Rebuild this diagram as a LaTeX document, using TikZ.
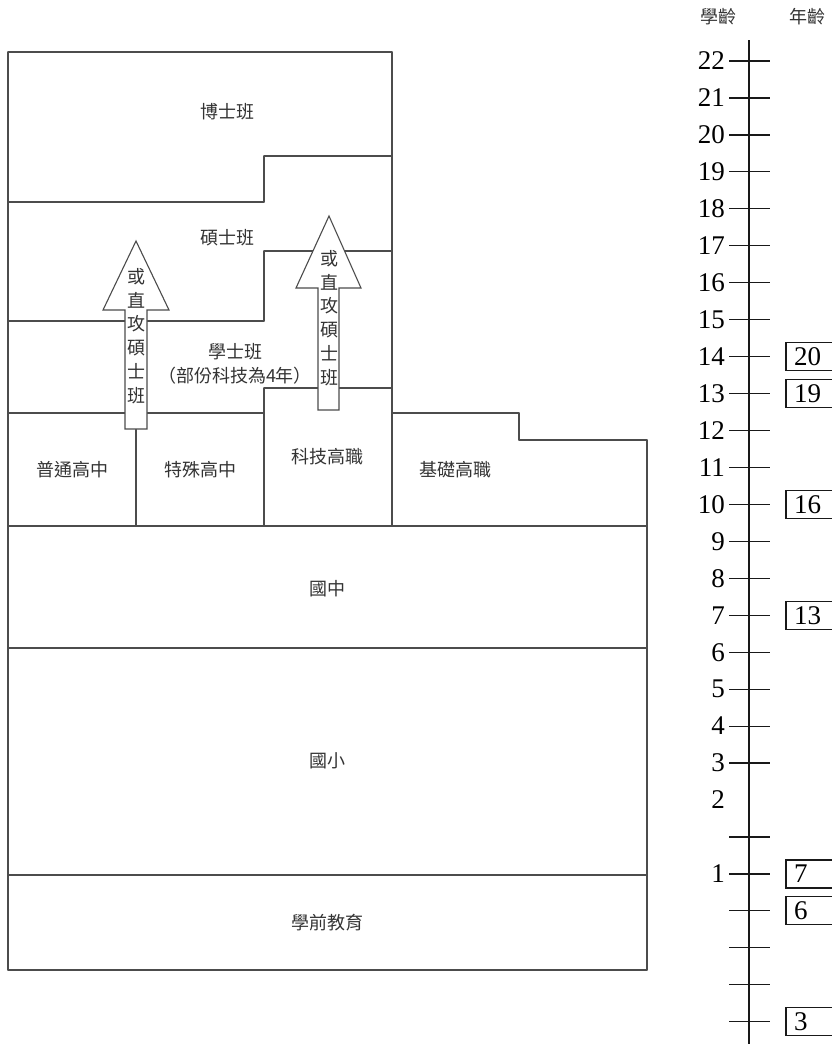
\documentclass[tikz,border=0pt]{standalone}
\usepackage{amsmath}
\usepackage{pgf,tikz}
\usepackage{tkz-euclide}
\usepackage{xcolor}
\usepackage{fontspec}
\newfontfamily\cjkfont{Noto Sans CJK TC}
\newfontfamily\numfont{Liberation Serif}
\usetikzlibrary{calc}

\tikzset{
  wall/.style={color=black!70, line width=1.1pt},
  zh/.style={font=\cjkfont\fontsize{18pt}{23.7pt}\selectfont, text=black!80, inner sep=0pt},
  num/.style={font=\numfont\fontsize{27pt}{27pt}\selectfont, inner sep=0pt},
  axis/.style={black!90, line width=1.2pt}
}

\begin{document}
\begin{tikzpicture}[x=1pt, y=-1pt]
    \useasboundingbox (0,0) rectangle (832,1044);
    \clip (0,0) rectangle (832,1044);
    \tkzDefPoint(8,52){t_1}
    \tkzDefPoint(392,52){t_2}
    \tkzDefPoint(8,202){d_1}
    \tkzDefPoint(264,202){d_2}
    \tkzDefPoint(264,156){d_3}
    \tkzDefPoint(392,156){d_4}
    \tkzDefPoint(8,321){m_1}
    \tkzDefPoint(264,321){m_2}
    \tkzDefPoint(264,251){m_3}
    \tkzDefPoint(392,251){m_4}
    \tkzDefPoint(8,413){b_1}
    \tkzDefPoint(264,413){b_2}
    \tkzDefPoint(264,388){b_3}
    \tkzDefPoint(392,388){b_4}
    \tkzDefPoint(136,413){h_1}
    \tkzDefPoint(136,526){h_2}
    \tkzDefPoint(264,526){h_3}
    \tkzDefPoint(392,526){h_4}
    \tkzDefPoint(392,413){v_1}
    \tkzDefPoint(519,413){v_2}
    \tkzDefPoint(519,440){v_3}
    \tkzDefPoint(647,440){v_4}
    \tkzDefPoint(8,526){r_1}
    \tkzDefPoint(647,526){r_2}
    \tkzDefPoint(8,648){r_3}
    \tkzDefPoint(647,648){r_4}
    \tkzDefPoint(8,875){r_5}
    \tkzDefPoint(647,875){r_6}
    \tkzDefPoint(8,970){r_7}
    \tkzDefPoint(647,970){r_8}
    \tkzDrawSegments[wall](t_1,t_2 t_1,r_7 t_2,h_4 d_1,d_2 d_2,d_3 d_3,d_4 m_1,m_2 m_2,m_3 m_3,m_4)
    \tkzDrawSegments[wall](b_1,b_2 b_3,h_3 b_3,b_4 h_1,h_2 v_1,v_2 v_2,v_3 v_3,v_4 v_4,r_8)
    \tkzDrawSegments[wall](r_1,r_2 r_3,r_4 r_5,r_6 r_7,r_8)
    % arrows
    \filldraw[wall, fill=white] (125,429) -- (125,310) -- (103,310) -- (136,241) -- (169,310) -- (147,310) -- (147,429) -- cycle;
    \filldraw[wall, fill=white] (318,410) -- (318,288) -- (296,288) -- (329,216) -- (361,288) -- (339,288) -- (339,410) -- cycle;
    \node[zh, align=center] (skip_1) at (136,336) {或\\直\\攻\\碩\\士\\班};
    \node[zh, align=center] (skip_2) at (329,318) {或\\直\\攻\\碩\\士\\班};
    % levels
    \node[zh] (phd) at (227,112) {博士班};
    \node[zh] (master) at (227,238) {碩士班};
    \node[zh, align=center] (bachelor) at (235,364) {學士班\\（部份科技為4年）};
    \node[zh] (general) at (72,470) {普通高中};
    \node[zh] (special) at (200,470) {特殊高中};
    \node[zh] (tech) at (327,457) {科技高職};
    \node[zh] (basic) at (455,470) {基礎高職};
    \node[zh] (junior) at (327,589) {國中};
    \node[zh] (primary) at (327,761) {國小};
    \node[zh] (preschool) at (327,923) {學前教育};
    % scale
    \node[zh] (grade) at (718,17) {學齡};
    \node[zh] (age) at (807,17) {年齡};
    \draw[axis] (749,40) -- (749,1044);
    \foreach \k in {0,...,19,21,22,23,24,25,26}
      \draw[axis] (729,{61+36.95*\k}) -- (770,{61+36.95*\k});
    \foreach \n [count=\k from 0] in {22,21,...,3}
      \node[num, anchor=east] (grade_\n) at (725,{61+36.95*\k}) {\n};
    \node[num, anchor=east] (grade_2) at (725,800) {2};
    \node[num, anchor=east] (grade_1) at (725,{61+36.95*22}) {1};
    \foreach \a/\k in {20/8,19/9,16/12,13/15,7/22,6/23,3/26}{
      \draw[axis] (786,{47+36.95*\k}) rectangle (850,{75+36.95*\k});
      \node[num, anchor=west] (age_\a) at (794,{61+36.95*\k}) {\a};
    }
\end{tikzpicture}
\end{document}
